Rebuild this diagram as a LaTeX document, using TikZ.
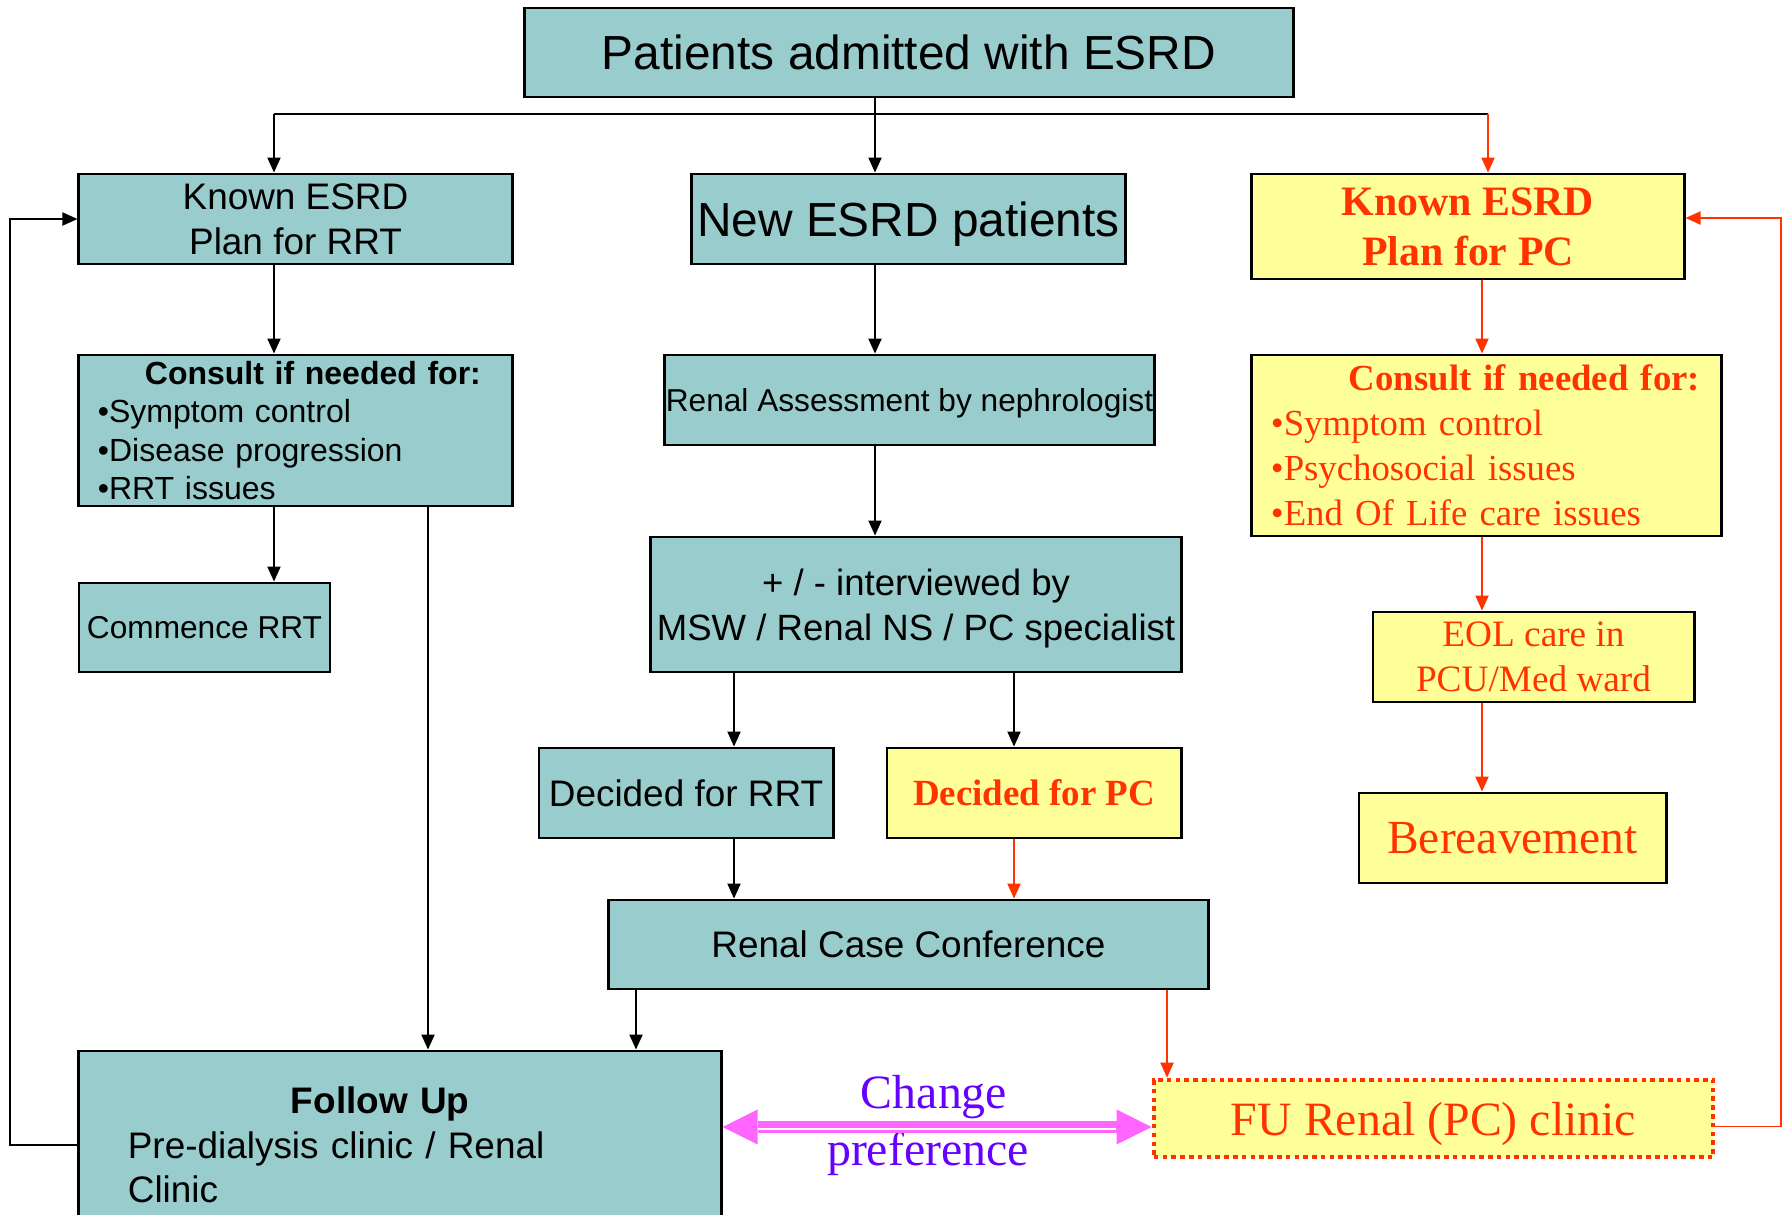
\documentclass[tikz,border=0pt]{standalone}
\usepackage{fontspec}
\setmainfont{Liberation Serif}
\setsansfont{Liberation Sans}
\usepackage{xcolor}
\definecolor{esrdteal}{RGB}{153, 204, 204}
\definecolor{pcyellow}{RGB}{255, 255, 153}
\definecolor{pcred}{RGB}{255, 51, 0}
\definecolor{chgpurple}{RGB}{102, 0, 255}
\definecolor{chgpink}{RGB}{255, 102, 255}
\usetikzlibrary{arrows.meta, calc}

\begin{document}
\begin{tikzpicture}[x=0.01cm, y=-0.01cm,
    rrtbox/.style={draw=black, line width=0.8pt, fill=esrdteal, inner sep=0pt, align=center},
    pcbox/.style={draw=black, line width=0.8pt, fill=pcyellow, text=pcred, inner sep=0pt, align=center},
    flow/.style={line width=0.55pt, -{Triangle[length=0.15cm, width=0.13cm]}},
    pcflow/.style={flow, pcred},
    chgarrow/.style={chgpink, line width=0.12cm,
      {Triangle[length=0.35cm, width=0.35cm, line width=0pt]}-{Triangle[length=0.35cm, width=0.35cm, line width=0pt]}},
    chglabel/.style={anchor=base, text=chgpurple, font=\fontsize{13.6}{16}\selectfont}]
  \useasboundingbox (0,0) rectangle (1791,1214);
  % Top box
  \node[rrtbox, minimum width=7.68cm, minimum height=0.89cm, font=\sffamily\fontsize{13.6}{16}\selectfont] (admit) at (909,52.5) {Patients admitted with ESRD};
  % Second row
  \node[rrtbox, minimum width=4.33cm, minimum height=0.90cm, font=\sffamily\fontsize{10.5}{12.7}\selectfont] (knownrrt) at (295.5,219) {Known ESRD\\ Plan for RRT};
  \node[rrtbox, minimum width=4.33cm, minimum height=0.90cm, text depth=0pt, font=\sffamily\fontsize{13.6}{16}\selectfont] (newesrd) at (908.5,219) {New ESRD patients};
  \node[pcbox, minimum width=4.32cm, minimum height=1.05cm, font=\bfseries\fontsize{11.9}{14.3}\selectfont] (knownpc) at (1468,226.5) {Known ESRD\\ Plan for PC};
  % Consult boxes
  \node[rrtbox, minimum width=4.33cm, minimum height=1.51cm, text width=3.95cm, inner xsep=0.19cm, align=left, font=\sffamily\fontsize{9.1}{10.9}\selectfont] (consultrrt) at (295.5,430.5) {\hspace*{0.47cm}\textbf{Consult if needed for:}\\ \textbullet Symptom control\\ \textbullet Disease progression\\ \textbullet RRT issues};
  \node[rrtbox, minimum width=4.89cm, minimum height=0.90cm, text depth=0pt, font=\sffamily\fontsize{9}{11}\selectfont] (assess) at (909.5,400) {Renal Assessment by nephrologist};
  \node[pcbox, minimum width=4.69cm, minimum height=1.81cm, text width=4.31cm, inner xsep=0.19cm, align=left, font=\fontsize{10.45}{12.8}\selectfont] (consultpc) at (1486.5,445.5) {\hspace*{0.78cm}\textbf{Consult if needed for:}\\ \textbullet Symptom control\\ \textbullet Psychosocial issues\\ \textbullet End Of Life care issues};
  % Middle rows
  \node[rrtbox, minimum width=2.51cm, minimum height=0.89cm, font=\sffamily\fontsize{9}{11}\selectfont] (commence) at (204.5,627.5) {Commence RRT};
  \node[rrtbox, minimum width=5.30cm, minimum height=1.35cm, text depth=0pt, font=\sffamily\fontsize{10.4}{12.7}\selectfont] (interview) at (916,604.5) {+ / - interviewed by\\ MSW / Renal NS / PC specialist};
  \node[pcbox, minimum width=3.21cm, minimum height=0.90cm, font=\fontsize{10.6}{12.7}\selectfont] (eol) at (1533.5,657) {EOL care in\\ PCU/Med ward};
  \node[rrtbox, minimum width=2.94cm, minimum height=0.90cm, font=\sffamily\fontsize{10.5}{12.7}\selectfont] (decrrt) at (686,793) {Decided for RRT};
  \node[pcbox, minimum width=2.94cm, minimum height=0.90cm, font=\bfseries\fontsize{10.5}{12.7}\selectfont] (decpc) at (1034,793) {Decided for PC};
  \node[pcbox, minimum width=3.07cm, minimum height=0.90cm, font=\fontsize{13.5}{16}\selectfont] (bereave) at (1512.5,838) {Bereavement};
  \node[rrtbox, minimum width=5.99cm, minimum height=0.89cm, font=\sffamily\fontsize{10.5}{12.7}\selectfont] (confer) at (908.5,944.5) {Renal Case Conference};
  % Follow up row
  \node[rrtbox, minimum width=6.42cm, minimum height=1.88cm, text width=5.44cm, inner xsep=0.49cm, align=left, font=\sffamily\fontsize{10.5}{12.66}\selectfont] (followup) at (400,1145) {\hspace*{1.63cm}\textbf{Follow Up}\\ Pre-dialysis clinic / Renal\\ Clinic};
  \node[pcbox, draw=pcred, line width=1.3pt, dash pattern=on 1.3pt off 1.2pt, text depth=0pt, minimum width=5.59cm, minimum height=0.77cm, font=\fontsize{13.6}{16}\selectfont] (fupc) at (1433.5,1118.5) {FU Renal (PC) clinic};
  \node[chglabel] (chgtop) at (934,1108) {Change};
  \node[chglabel] (chgbot) at (928,1165) {preference};
  % Columns for connectors
  \coordinate (split) at (875,114);
  \coordinate (lcol) at (274,114);
  \coordinate (rcol) at (1488,114);
  \coordinate (pccol) at (1482,0);
  \coordinate (fucol) at (428,0);
  \coordinate (rrtcol) at (734,0);
  \coordinate (decpccol) at (1014,0);
  \coordinate (confcol) at (636,0);
  \coordinate (fupccol) at (1167,0);
  \coordinate (loopl) at (10,0);
  \coordinate (loopr) at (1781,0);
  \coordinate (chgy) at (0,1127);
  \coordinate (pcback) at ([yshift=-0.08cm]fupc.east);
  \coordinate (pcin) at ([yshift=0.085cm]knownpc.east);
  % Top split
  \draw[line width=0.55pt] (admit.south -| split) -- (split);
  \draw[line width=0.55pt] (lcol) -- (rcol);
  \draw[flow] (lcol) -- (knownrrt.north -| lcol);
  \draw[flow] (split) -- (newesrd.north -| split);
  \draw[pcflow] (rcol) -- (knownpc.north -| rcol);
  % Left column
  \draw[flow] (knownrrt.south -| lcol) -- (consultrrt.north -| lcol);
  \draw[flow] (consultrrt.south -| lcol) -- (commence.north -| lcol);
  \draw[flow] (consultrrt.south -| fucol) -- (followup.north -| fucol);
  % Middle column
  \draw[flow] (newesrd.south -| split) -- (assess.north -| split);
  \draw[flow] (assess.south -| split) -- (interview.north -| split);
  \draw[flow] (interview.south -| rrtcol) -- (decrrt.north -| rrtcol);
  \draw[flow] (interview.south -| decpccol) -- (decpc.north -| decpccol);
  \draw[flow] (decrrt.south -| rrtcol) -- (confer.north -| rrtcol);
  \draw[pcflow] (decpc.south -| decpccol) -- (confer.north -| decpccol);
  \draw[flow] (confer.south -| confcol) -- (followup.north -| confcol);
  \draw[pcflow] (confer.south -| fupccol) -- (fupc.north -| fupccol);
  % Right column
  \draw[pcflow] (knownpc.south -| pccol) -- (consultpc.north -| pccol);
  \draw[pcflow] (consultpc.south -| pccol) -- (eol.north -| pccol);
  \draw[pcflow] (eol.south -| pccol) -- (bereave.north -| pccol);
  % Loops back
  \draw[flow] (followup.west) -- (followup.west -| loopl) |- (knownrrt.west);
  \draw[pcflow] (pcback) -- (pcback -| loopr) |- (pcin);
  % Change preference
  \draw[chgarrow] (followup.east |- chgy) -- (fupc.west |- chgy);
  \draw[white, line width=0.02cm] ($(followup.east |- chgy)+(35,1.5)$) -- ($(fupc.west |- chgy)+(-36,1.5)$);
\end{tikzpicture}
\end{document}
